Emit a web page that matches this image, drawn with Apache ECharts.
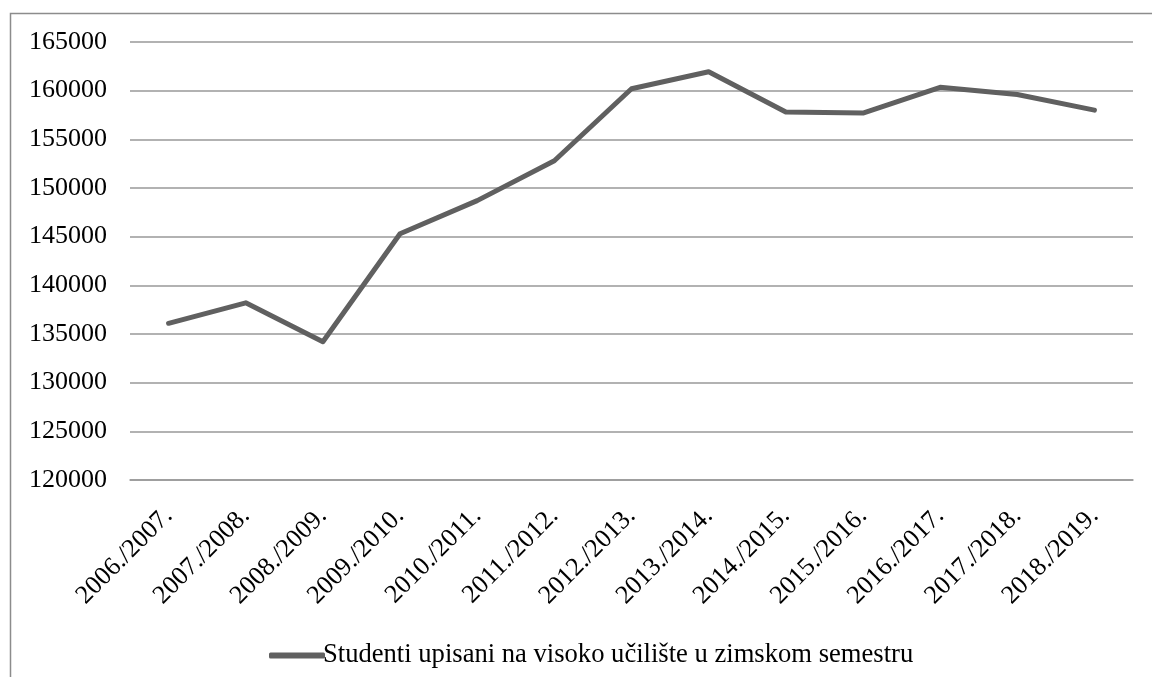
<!DOCTYPE html>
<html>
<head>
<meta charset="utf-8">
<script src="https://cdn.jsdelivr.net/npm/echarts@6/dist/echarts.min.js"></script>
<style>
	html, body { margin: 0; padding: 0; background: #fff; }
	#chart { width: 1152px; height: 677px; }
</style>
</head>
<body>
<div id="chart"></div>
<script>
var years = ['2006./2007.', '2007./2008.', '2008./2009.', '2009./2010.', '2010./2011.', '2011./2012.',
	'2012./2013.', '2013./2014.', '2014./2015.', '2015./2016.', '2016./2017.', '2017./2018.', '2018./2019.'];
var students = [136100, 138200, 134200, 145300, 148700, 152800, 160200, 161950, 157800, 157700, 160350, 159600, 158000];
var seriesName = 'Studenti upisani na visoko učilište u zimskom semestru';

var font = '"Liberation Serif", "Times New Roman", serif';

var chart = echarts.init(document.getElementById('chart'));
var option = {
	animation: false,
	graphic: [{
		type: 'rect',
		shape: { x: 10.5, y: 13.5, width: 1200, height: 700 },
		style: { fill: 'none', stroke: '#8c8c8c', lineWidth: 1.5 },
		silent: true
	}],
	grid: { left: 130, right: 19, top: 42, bottom: 197 },
	legend: {
		left: 264,
		top: 637,
		icon: 'roundRect',
		itemWidth: 56,
		itemHeight: 6,
		itemGap: 2,
		textStyle: { fontFamily: font, fontSize: 26.6, color: '#000', padding: [0, 0, 0, -7] },
		data: [seriesName]
	},
	xAxis: {
		type: 'category',
		data: years,
		boundaryGap: true,
		axisLine: { show: true, lineStyle: { color: '#999', width: 1.5 } },
		axisTick: { show: false },
		axisLabel: {
			rotate: 45,
			interval: 0,
			margin: 32,
			fontFamily: font,
			fontSize: 26,
			color: '#000'
		}
	},
	yAxis: {
		type: 'value',
		min: 120000,
		max: 165000,
		interval: 5000,
		axisLine: { show: false },
		axisTick: { show: false },
		axisLabel: {
			margin: 23,
			fontFamily: font,
			fontSize: 26,
			color: '#000',
			formatter: function (v) { return String(v); }
		},
		splitLine: { lineStyle: { color: '#999', width: 1.5 } }
	},
	series: [{
		name: seriesName,
		type: 'line',
		data: students,
		symbol: 'none',
		lineStyle: { color: '#606060', width: 5, cap: 'round', join: 'round' },
		itemStyle: { color: '#606060' }
	}]
};
chart.setOption(option);
</script>
</body>
</html>
